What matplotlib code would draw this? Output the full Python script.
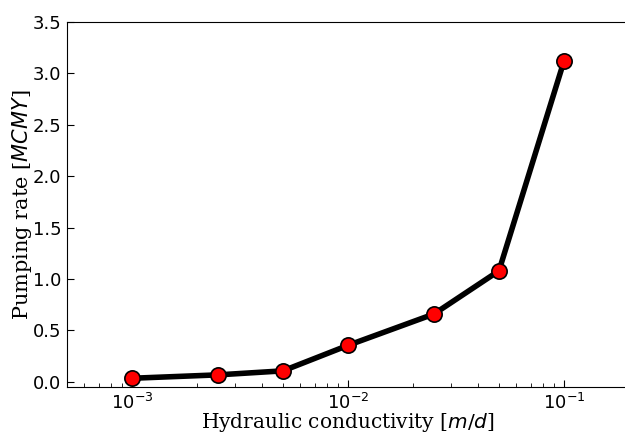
import matplotlib
matplotlib.use("Agg")
import matplotlib.pyplot as plt

# hydraulic conductivity [m/d] vs pumping rate [MCMY]
conductividade = [0.001, 0.0025, 0.005, 0.01, 0.025, 0.05, 0.1]
bombeamento = [0.035, 0.068, 0.107, 0.355, 0.66, 1.08, 3.12]

fig = plt.figure(figsize=(6.25, 4.33), dpi=100)
ax = fig.add_axes([67/625, 1 - 387/433, (629 - 67)/625, (387 - 22)/433])

ax.plot(conductividade, bombeamento, color="black", linewidth=4,
        marker="o", markersize=11, markerfacecolor="red",
        markeredgecolor="black", markeredgewidth=1.2)

ax.set_xscale("log")
ax.set_xlim(5e-4, 0.2)
ax.set_ylim(-0.05, 3.5)
ax.set_yticks([0.0, 0.5, 1.0, 1.5, 2.0, 2.5, 3.0, 3.5])

ax.tick_params(which="both", direction="in", labelsize=13)
ax.tick_params(which="major", length=5, pad=4)
ax.tick_params(which="minor", length=3)

ax.set_xlabel("Hydraulic conductivity [$m/d$]", family="DejaVu Serif",
              fontsize=14.5, labelpad=-1)
ax.set_ylabel("Pumping rate [$MCMY$]", family="DejaVu Serif",
              fontsize=15, labelpad=-1)

fig.savefig("out.png", dpi=100)
